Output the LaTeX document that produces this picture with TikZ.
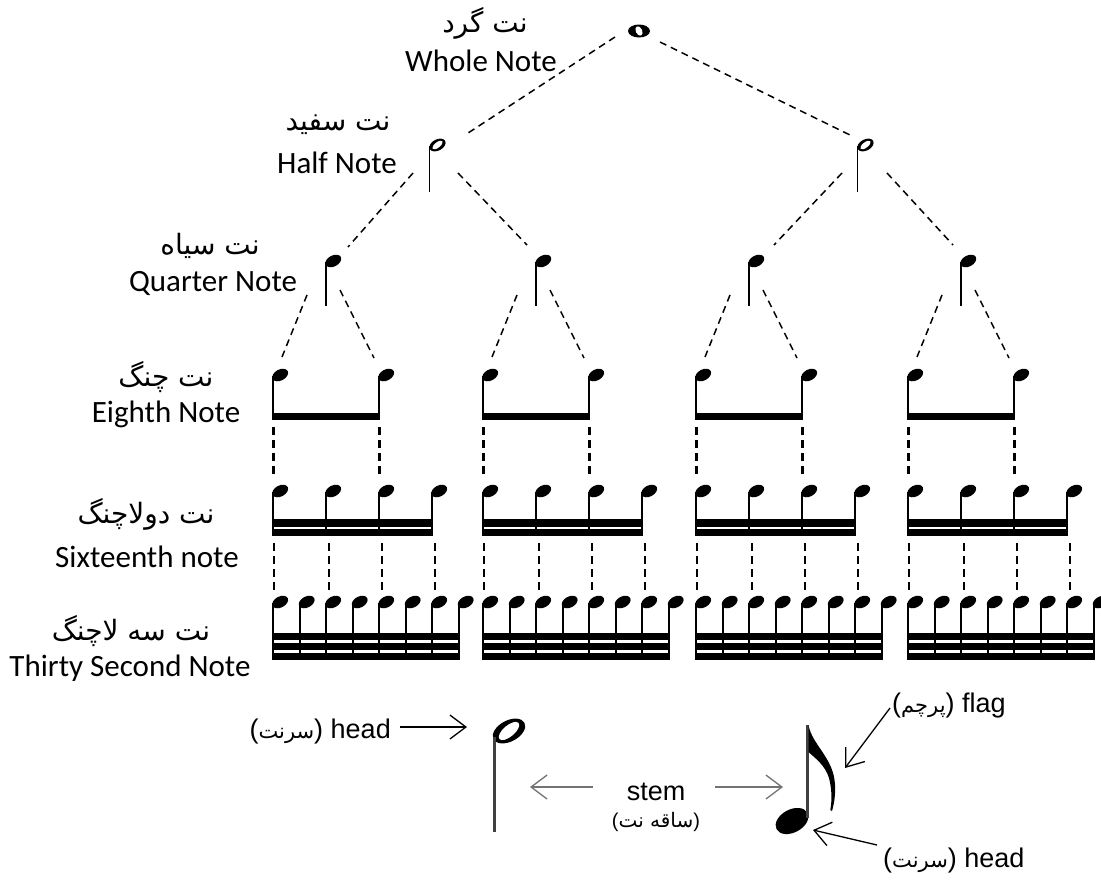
\documentclass[tikz,border=0pt]{standalone}
\usepackage{fontspec}
\setmainfont{Carlito}
\newfontfamily\arabicfont[Script=Arabic]{DejaVu Sans}
\newfontfamily\arialfont{Liberation Sans}
\TeXXeTstate=1
\usetikzlibrary{arrows.meta,calc}
\newcommand\fa[1]{{\arabicfont\beginR #1\endR}}
\begin{document}
\begin{tikzpicture}[x=1pt,y=-1pt,
  eng/.style={font=\fontsize{31}{36}\selectfont, inner sep=0pt},
  per/.style={font=\arabicfont\fontsize{28}{32}\selectfont, inner sep=0pt},
  lbl/.style={font=\arialfont\fontsize{27}{32}\selectfont, inner sep=0pt},
  smallfa/.style={font=\arialfont\fontsize{20}{24}\selectfont, inner sep=0pt},
  link/.style={line width=1.5pt, dash pattern=on 7pt off 5pt},
  vlink/.style={line width=2.2pt, dash pattern=on 8pt off 5pt},
  notestem/.style={line width=2pt},
  thinstem/.style={line width=1.5pt},
  bigstem/.style={line width=3pt, draw=black!75},
  pointer/.style={line width=1.3pt, -{Straight Barb[length=16pt,width=24pt,line width=1.3pt]}},
  greypointer/.style={pointer, draw=black!55},
]
\useasboundingbox (0,0) rectangle (1101,879);
\fill[white] (0,0) rectangle (1101,879);

% ---------- labels ----------
\node[per] (faW) at (485,23) {\beginR نت گرد\endR};
\node[eng] (enW) at (481,61) {Whole Note};
\node[per] (faH) at (338,125) {\beginR نت سفید\endR};
\node[eng] (enH) at (337,163) {Half Note};
\node[per] (faQ) at (210,246) {\beginR نت سیاه\endR};
\node[eng] (enQ) at (213,283) {Quarter Note};
\node[per] (faE) at (166,377) {\beginR نت چنگ\endR};
\node[eng] (enE) at (166,414) {Eighth Note};
\node[per] (faS) at (146,514) {\beginR نت دولاچنگ\endR};
\node[eng] (enS) at (147,557) {Sixteenth note};
\node[per] (faT) at (131,631) {\beginR نت سه لاچنگ\endR};
\node[eng] (enT) at (130,668) {Thirty Second Note};

% ---------- whole note ----------
\coordinate (W) at (639,31);
\fill (W) circle [x radius=11, y radius=6.5];
\fill[white] (W) circle [x radius=3.2, y radius=5, rotate=25];

% ---------- half notes ----------
\foreach \n/\x in {H1/429,H2/857} {
  \coordinate (\n) at (\x,147);
  \fill (\x+8.5,145) circle [x radius=8.7, y radius=5.6, rotate=28];
  \fill[white] (\x+8.5,145) circle [x radius=6.2, y radius=2.7, rotate=38];
  \draw[thinstem] (\x+0.7,146) -- (\x+0.7,192);
}

% ---------- quarter notes ----------
\foreach \i/\x in {1/325,2/535,3/748,4/960} {
  \coordinate (Q\i) at (\x,261);
  \fill (\x+8.3,261) circle [x radius=8.5, y radius=5.5, rotate=28];
  \draw[thinstem] (\x+0.8,262) -- (\x+0.8,306);
}

% ---------- groups ----------
\foreach \g [count=\gi] in {272,482,695,907} {
  % eighth notes
  \foreach \m in {0,1} {
    \pgfmathsetmacro\xx{\g+106*\m}
    \coordinate (E\gi\m) at (\xx,375);
    \fill (\xx+8.2,375) circle [x radius=8.5, y radius=5.5, rotate=28];
    \draw[notestem] (\xx+1,376) -- (\xx+1,420);
  }
  \fill (\g,413) rectangle (\g+108,420);
  % sixteenth notes
  \foreach \j in {0,...,3} {
    \pgfmathsetmacro\xx{\g+53*\j}
    \coordinate (S\gi\j) at (\xx,491);
    \fill (\xx+8.2,491) circle [x radius=8.5, y radius=5.5, rotate=28];
    \draw[notestem] (\xx+1,492) -- (\xx+1,535);
  }
  \fill (\g,519) rectangle (\g+161,526.5);
  \fill (\g,529) rectangle (\g+161,535.5);
  % thirty-second notes
  \foreach \k in {0,...,7} {
    \pgfmathsetmacro\xx{\g+26.5*\k}
    \coordinate (T\gi\k) at (\xx,602);
    \fill (\xx+8.2,602) circle [x radius=8.5, y radius=5.5, rotate=28];
    \draw[notestem] (\xx+1,603) -- (\xx+1,660);
  }
  \fill (\g,633) rectangle (\g+187.5,640);
  \fill (\g,643) rectangle (\g+187.5,650);
  \fill (\g,653) rectangle (\g+187.5,660);
  % links quarter -> eighth
  \draw[link] ($(Q\gi)+(-18,34)$) -- ($(E\gi0)+(10,-18)$);
  \draw[link] ($(Q\gi)+(15,29)$) -- ($(E\gi1)+(-4,-17)$);
  % links eighth -> sixteenth
  \draw[vlink] ($(E\gi0)+(1.5,52)$) -- ($(S\gi0)+(1.5,-13)$);
  \draw[vlink] ($(E\gi1)+(1.5,52)$) -- ($(S\gi2)+(1.5,-13)$);
  % links sixteenth -> thirty-second
  \draw[vlink] ($(S\gi0)+(2,52)$) -- ($(T\gi0)+(2,-11)$);
  \draw[vlink] ($(S\gi1)+(4,52)$) -- ($(T\gi2)+(4,-11)$);
  \draw[vlink] ($(S\gi2)+(4,52)$) -- ($(T\gi4)+(4,-11)$);
  \draw[vlink] ($(S\gi3)+(4,52)$) -- ($(T\gi6)+(4,-11)$);
}

% ---------- upper links ----------
\draw[link] ($(W)+(-24,6)$) -- ($(H1)+(36,-12)$);
\draw[link] ($(W)+(21,11)$) -- ($(H2)+(-7,-12)$);
\draw[link] ($(H1)+(-16,26)$) -- ($(Q1)+(23,-14)$);
\draw[link] ($(H1)+(29,26)$) -- ($(Q2)+(-8,-16)$);
\draw[link] ($(H2)+(-15,26)$) -- ($(Q3)+(26,-16)$);
\draw[link] ($(H2)+(30,26)$) -- ($(Q4)+(-7,-16)$);

% ---------- anatomy ----------
% big half note
\coordinate (BH) at (494.5,737);
\fill (509,731) circle [x radius=17.5, y radius=10.5, rotate=28];
\fill[white] (509,731) circle [x radius=12.5, y radius=5.6, rotate=40];
\draw[bigstem] (BH) -- (494.5,832);
% big eighth note
\coordinate (BE) at (807,725);
\fill (792,821) circle [x radius=17.5, y radius=11.5, rotate=28];
\draw[bigstem] (BE) -- (807,818);
\fill (808.5,725) .. controls (812,745) and (834,758) .. (835,785)
      .. controls (835.5,796) and (834,804) .. (832,811)
      -- (830.3,810) .. controls (832,800) and (832,790) .. (829,778)
      .. controls (825,765) and (815,758) .. (808.5,752) -- cycle;

\node[lbl, anchor=base east] (headL) at (391,738) {(\fa{\fontsize{21}{24}\selectfont سرنت}) head};
\coordinate (hlA) at (400,727);
\coordinate (hlB) at (467,727);
\draw[pointer] (hlA) -- (hlB);

\node[lbl, anchor=base] (stemtxt) at (656,800) {stem};
\node[smallfa] (stemfa) at (656,822) {(\fa{ساقه نت})};
\coordinate (slA) at (593,787);
\coordinate (slB) at (530,787);
\coordinate (srA) at (715,787);
\coordinate (srB) at (783,787);
\draw[greypointer] (slA) -- (slB);
\draw[greypointer] (srA) -- (srB);

\node[lbl, anchor=base west] (flagtxt) at (892,712) {(\fa{\fontsize{21}{24}\selectfont پرچم}) flag};
\coordinate (flA) at (890,708);
\coordinate (flB) at (845,768);
\draw[pointer] (flA) -- (flB);

\node[lbl, anchor=base west] (headR) at (883,867) {(\fa{\fontsize{21}{24}\selectfont سرنت}) head};
\coordinate (hrA) at (877,845);
\coordinate (hrB) at (813,830);
\draw[pointer] (hrA) -- (hrB);
\end{tikzpicture}
\end{document}
